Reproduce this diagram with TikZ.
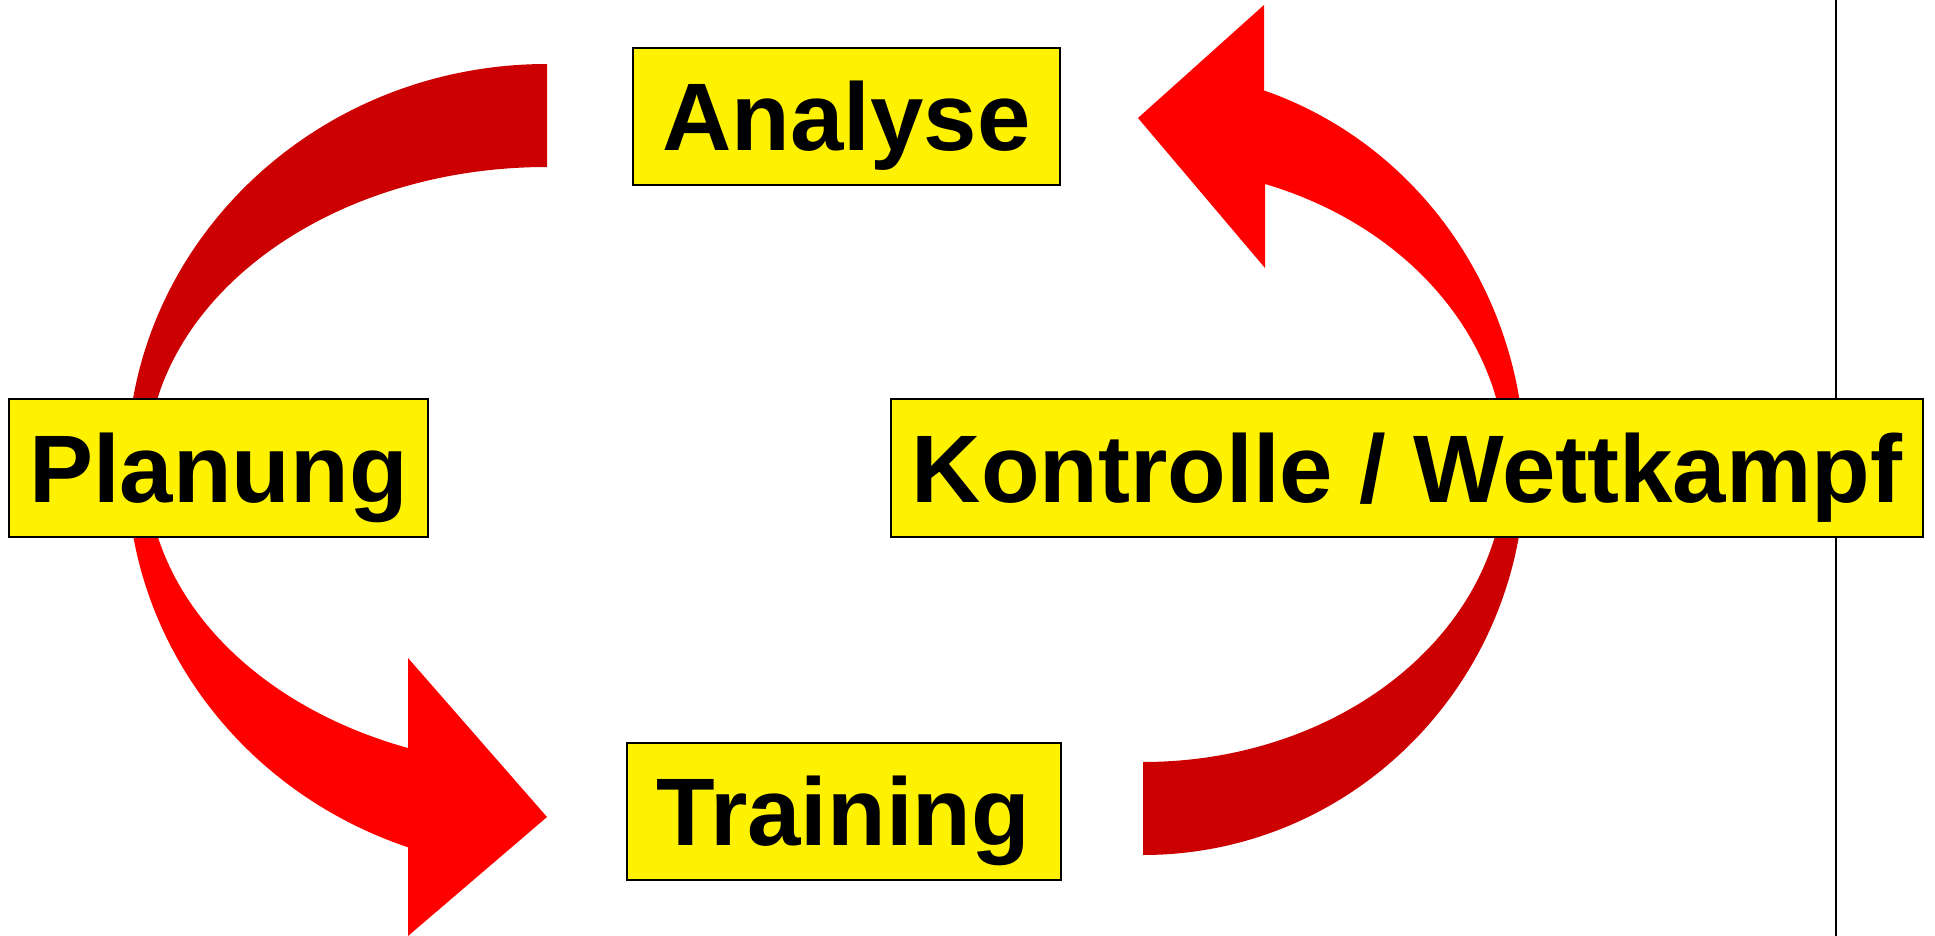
\documentclass[tikz,border=0pt]{standalone}
\usepackage{fontspec}
\setmainfont{Liberation Sans}
\definecolor{arrowdark}{HTML}{CC0000}
\definecolor{arrowred}{HTML}{FF0000}
\begin{document}
\begin{tikzpicture}[x=0.5pt,y=-0.5pt]
    \tikzstyle{phase}=[draw=black, line width=1pt, fill=yellow, inner sep=0pt, minimum height=68.5pt, text height=34.4pt, text depth=0pt, font=\fontsize{48}{56}\selectfont\bfseries]
    \useasboundingbox (0,0) rectangle (1935,936);
    \coordinate (top) at (1836,0);
    \coordinate (bot) at (1836,936);
    \draw[line width=1pt] (top) -- (bot);
    % left half
    \fill[arrowdark] (547,64) arc[start angle=270, end angle=180, x radius=420, y radius=403]
        -- (147,467) arc[start angle=180, end angle=270, x radius=400, y radius=300] -- cycle;
    \fill[arrowred] (127,467) arc[start angle=180, end angle=109.3, x radius=420, y radius=403]
        -- (408,936) -- (547,817) -- (408,658) -- (408,748)
        arc[start angle=110.3, end angle=180, x radius=400, y radius=300] -- cycle;
    % right half
    \fill[arrowdark] (1143,855) arc[start angle=90, end angle=0, x radius=382, y radius=388]
        -- (1505,467) arc[start angle=0, end angle=90, x radius=362, y radius=295] -- cycle;
    \fill[arrowred] (1525,467) arc[start angle=360, end angle=288.5, x radius=382, y radius=397]
        -- (1264,5) -- (1138,118) -- (1265,268) -- (1265,184)
        arc[start angle=289.5, end angle=360, x radius=362, y radius=302] -- cycle;
    \node[phase, minimum width=213.5pt] (ana) at (846.5,116.5) {Analyse};
    \node[phase, minimum width=209.5pt] (plan) at (218.5,468) {Planung};
    \node[phase, minimum width=516pt] (kontr) at (1407,468) {Kontrolle / Wettkampf};
    \node[phase, minimum width=217pt] (train) at (843.5,811.5) {Training};
  \end{tikzpicture}
\end{document}
